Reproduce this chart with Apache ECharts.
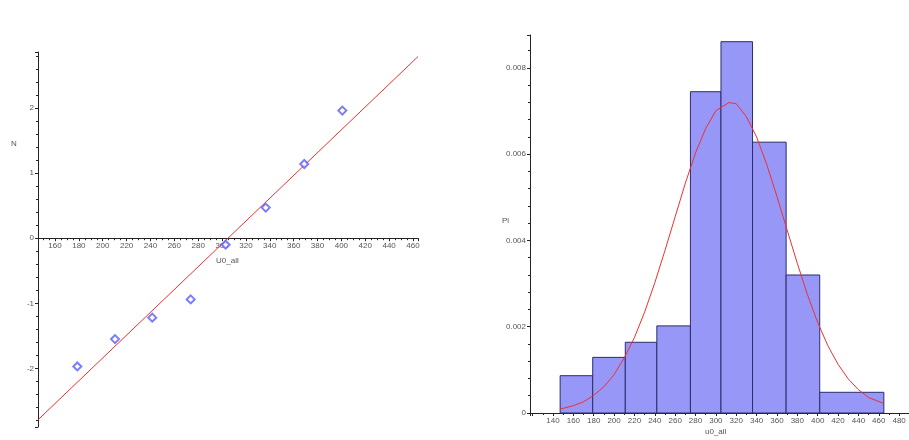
<!DOCTYPE html>
<html>
<head>
<meta charset="utf-8">
<script src="https://cdn.jsdelivr.net/npm/echarts@6/dist/echarts.min.js"></script>
<style>html,body{margin:0;padding:0;background:#fff}#c{width:909px;height:440px}</style>
</head>
<body>
<div id="c"></div>
<script>
// ---- Left panel: normal probability plot ----
const qqX = [178.7, 210.3, 241.5, 273.7, 303, 336.6, 368.9, 400.8];
const qqY = [-1.97, -1.55, -1.22, -0.94, -0.1, 0.47, 1.14, 1.96];
const qqLineX = [145.75, 464.2];
const qqLineY = [-2.79, 2.79];
const leftXTitle = 'U0_all';
const leftYTitle = 'N';

// ---- Right panel: histogram with fitted density ----
const binStart = [147, 179, 211, 242, 275, 305, 336, 369, 402];
const binEnd   = [179, 211, 242, 275, 305, 336, 369, 402, 465];
const density  = [0.000865, 0.00129, 0.00164, 0.00202, 0.00745, 0.00861, 0.00628, 0.0032, 0.00048];
const curveX = [147, 160, 170, 180, 190, 200, 210, 220, 230, 240, 250, 260, 270, 280, 290, 300, 313, 320, 330, 340, 350, 360, 370, 380, 390, 400, 410, 420, 430, 440, 450, 465];
const curveY = [0.00009, 0.00017, 0.00026, 0.00041, 0.00061, 0.00089, 0.00128, 0.00175, 0.00234, 0.00302, 0.00377, 0.00455, 0.00533, 0.00603, 0.0066, 0.00701, 0.0072, 0.00717, 0.00687, 0.00640, 0.00576, 0.00502, 0.00424, 0.00347, 0.00274, 0.00210, 0.00156, 0.00113, 0.00079, 0.00054, 0.00036, 0.00022];
const rightXTitle = 'u0_all';
const rightYTitle = 'Pi';

const font = 'Liberation Sans';
const lblColor = '#555';
const axColor = '#222';

const chart = echarts.init(document.getElementById('c'), null, {renderer: 'canvas'});

const axisCommon = {
  axisLine: {show: true, lineStyle: {color: axColor, width: 1}},
  axisTick: {show: true, length: 3, lineStyle: {color: axColor}},
  minorTick: {show: true, length: 2, lineStyle: {color: axColor}},
  splitLine: {show: false},
  axisLabel: {fontSize: 8, color: lblColor, fontFamily: font, margin: 4, showMinLabel: false, showMaxLabel: false}
};

const leftYMin = -2.9, leftYMax = 2.86, leftGridTop = 52, leftGridH = 375;
// move the x axis up to where y = 0 sits
const leftXOffset = -(leftGridH * (0 - leftYMin) / (leftYMax - leftYMin));

chart.setOption({
  animation: false,
  backgroundColor: '#fff',
  grid: [
    {left: 38, top: leftGridTop, width: 380, height: leftGridH, containLabel: false},
    {left: 530, top: 35, width: 379, height: 378, containLabel: false}
  ],
  xAxis: [
    Object.assign({}, axisCommon, {
      gridIndex: 0, type: 'value', min: 145.75, max: 464.2, splitNumber: 16,
      position: 'bottom', offset: leftXOffset,
      axisLine: {show: true, onZero: false, lineStyle: {color: axColor}},
      minorTick: {show: true, splitNumber: 4, length: 2, lineStyle: {color: axColor}},
      axisLabel: Object.assign({}, axisCommon.axisLabel, {
        formatter: v => (v >= 160 && v <= 460 ? String(v) : '')
      })
    }),
    Object.assign({}, axisCommon, {
      gridIndex: 1, type: 'value', min: 117.4, max: 489.7, splitNumber: 18,
      minorTick: {show: true, splitNumber: 2, length: 2, lineStyle: {color: axColor}},
      axisLabel: Object.assign({}, axisCommon.axisLabel, {
        formatter: v => (v >= 140 && v <= 480 ? String(v) : '')
      })
    })
  ],
  yAxis: [
    Object.assign({}, axisCommon, {
      gridIndex: 0, type: 'value', min: leftYMin, max: leftYMax, splitNumber: 6,
      minorTick: {show: true, splitNumber: 5, length: 2, lineStyle: {color: axColor}},
      axisLabel: Object.assign({}, axisCommon.axisLabel, {
        formatter: v => (Math.abs(v - Math.round(v)) < 1e-6 ? String(Math.round(v)) : '')
      })
    }),
    Object.assign({}, axisCommon, {
      gridIndex: 1, type: 'value', min: 0, max: 0.008765, splitNumber: 4,
      minorTick: {show: true, splitNumber: 5, length: 2, lineStyle: {color: axColor}},
      axisLabel: Object.assign({}, axisCommon.axisLabel, {
        showMinLabel: true,
        formatter: v => (v === 0 ? '0' : v.toFixed(3))
      })
    })
  ],
  graphic: [
    {type: 'text', left: 11, top: 140, style: {text: leftYTitle, fontSize: 8, fill: lblColor, fontFamily: font}},
    {type: 'text', left: 216, top: 257, style: {text: leftXTitle, fontSize: 8, fill: lblColor, fontFamily: font}},
    {type: 'text', left: 502, top: 217, style: {text: rightYTitle, fontSize: 8, fill: lblColor, fontFamily: font}},
    {type: 'text', left: 705, top: 428, style: {text: rightXTitle, fontSize: 8, fill: lblColor, fontFamily: font}}
  ],
  series: [
    {
      type: 'line', xAxisIndex: 0, yAxisIndex: 0, symbol: 'none',
      lineStyle: {color: '#ee3030', width: 1},
      data: qqLineX.map((x, i) => [x, qqLineY[i]]), z: 2
    },
    {
      type: 'scatter', xAxisIndex: 0, yAxisIndex: 0, symbol: 'emptyDiamond', symbolSize: 8,
      itemStyle: {color: '#5a5aff', borderWidth: 1},
      data: qqX.map((x, i) => [x, qqY[i]]), z: 3
    },
    {
      type: 'custom', xAxisIndex: 1, yAxisIndex: 1,
      data: binStart.map((s, i) => [s, binEnd[i], density[i]]),
      renderItem: function (params, api) {
        const p0 = api.coord([api.value(0), api.value(2)]);
        const p1 = api.coord([api.value(1), 0]);
        return {
          type: 'rect',
          shape: {x: p0[0], y: p0[1], width: p1[0] - p0[0], height: p1[1] - p0[1]},
          style: {fill: '#9797f7', stroke: '#2c2c6e', lineWidth: 1}
        };
      },
      z: 2
    },
    {
      type: 'line', xAxisIndex: 1, yAxisIndex: 1, symbol: 'none', smooth: false,
      lineStyle: {color: '#ee3030', width: 1},
      data: curveX.map((x, i) => [x, curveY[i]]), z: 3
    }
  ]
});
</script>
</body>
</html>
